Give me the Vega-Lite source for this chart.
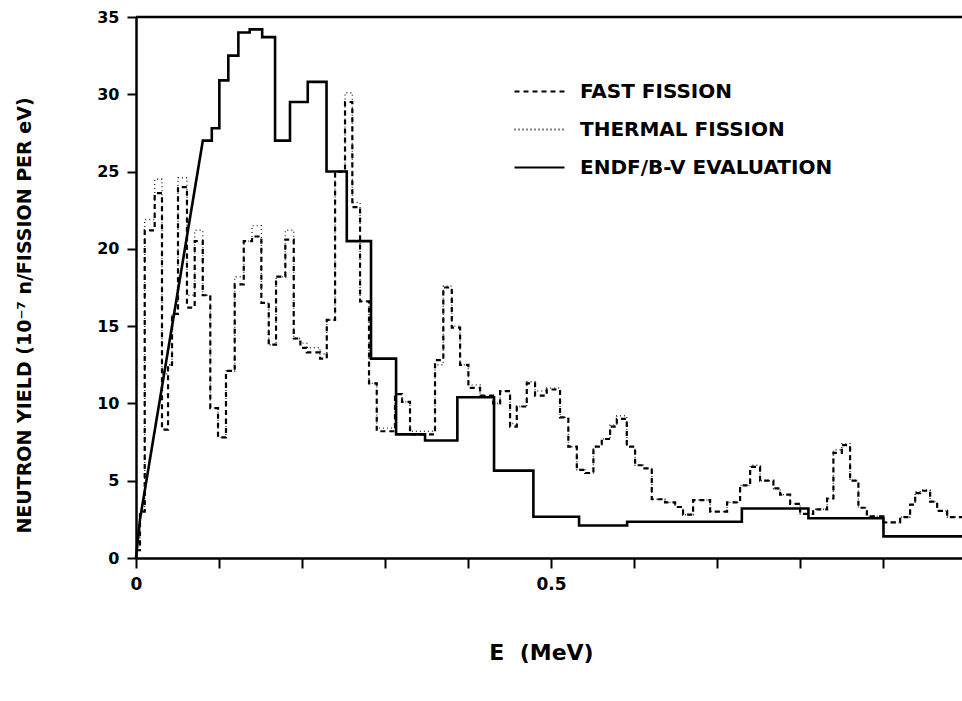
{
  "$schema": "https://vega.github.io/schema/vega-lite/v6.json",
  "autosize": "none",
  "width": 826,
  "height": 541,
  "padding": {"left": 136, "top": 17, "right": 0, "bottom": 143},
  "background": "white",
  "config": {"view": {"stroke": null}, "font": "DejaVu Sans"},
  "datasets": {
    "fast": [
      {"E": 0, "v": 0.5}, {"E": 0.0048, "v": 3.0}, {"E": 0.0105, "v": 21.2}, {"E": 0.0225, "v": 23.6},
      {"E": 0.0313, "v": 8.3}, {"E": 0.0386, "v": 12.5}, {"E": 0.0434, "v": 15.8}, {"E": 0.0506, "v": 24.0},
      {"E": 0.0614, "v": 16.2}, {"E": 0.0707, "v": 20.5}, {"E": 0.0804, "v": 17.0}, {"E": 0.0895, "v": 9.7},
      {"E": 0.0988, "v": 7.8}, {"E": 0.1084, "v": 12.1}, {"E": 0.1189, "v": 17.7}, {"E": 0.1298, "v": 20.5},
      {"E": 0.1398, "v": 20.8}, {"E": 0.151, "v": 16.5}, {"E": 0.1599, "v": 13.8}, {"E": 0.1687, "v": 18.2},
      {"E": 0.1799, "v": 20.6}, {"E": 0.19, "v": 14.2}, {"E": 0.198, "v": 13.6}, {"E": 0.2057, "v": 13.3},
      {"E": 0.2217, "v": 12.9}, {"E": 0.2298, "v": 15.4}, {"E": 0.2398, "v": 25.0}, {"E": 0.2518, "v": 29.5},
      {"E": 0.2606, "v": 22.7}, {"E": 0.2699, "v": 16.6}, {"E": 0.2807, "v": 11.3}, {"E": 0.29, "v": 8.2},
      {"E": 0.312, "v": 10.6}, {"E": 0.3205, "v": 10.1}, {"E": 0.3301, "v": 8.0}, {"E": 0.3602, "v": 12.8},
      {"E": 0.3702, "v": 17.5}, {"E": 0.3804, "v": 14.9}, {"E": 0.3904, "v": 12.5}, {"E": 0.4004, "v": 11.0},
      {"E": 0.4145, "v": 10.5}, {"E": 0.4301, "v": 10.0}, {"E": 0.4386, "v": 10.8}, {"E": 0.4506, "v": 8.5},
      {"E": 0.4587, "v": 9.8}, {"E": 0.4707, "v": 11.3}, {"E": 0.4807, "v": 10.5}, {"E": 0.4948, "v": 10.9},
      {"E": 0.5108, "v": 9.1}, {"E": 0.5208, "v": 7.2}, {"E": 0.531, "v": 5.7}, {"E": 0.541, "v": 5.5},
      {"E": 0.551, "v": 7.2}, {"E": 0.5611, "v": 7.7}, {"E": 0.5711, "v": 8.5}, {"E": 0.5792, "v": 9.0},
      {"E": 0.5912, "v": 7.2}, {"E": 0.6012, "v": 6.0}, {"E": 0.6112, "v": 5.8}, {"E": 0.6213, "v": 3.8},
      {"E": 0.6373, "v": 3.6}, {"E": 0.6494, "v": 3.3}, {"E": 0.659, "v": 2.8}, {"E": 0.6711, "v": 3.75},
      {"E": 0.6916, "v": 3.0}, {"E": 0.712, "v": 3.6}, {"E": 0.7277, "v": 4.7}, {"E": 0.7398, "v": 5.9},
      {"E": 0.7518, "v": 5.0}, {"E": 0.7678, "v": 4.5}, {"E": 0.7759, "v": 4.1}, {"E": 0.788, "v": 3.5},
      {"E": 0.8, "v": 2.85}, {"E": 0.8157, "v": 3.15}, {"E": 0.8325, "v": 3.85}, {"E": 0.8401, "v": 6.8},
      {"E": 0.8502, "v": 7.3}, {"E": 0.8602, "v": 5.0}, {"E": 0.8702, "v": 3.25}, {"E": 0.8804, "v": 2.7},
      {"E": 0.9004, "v": 2.3}, {"E": 0.9205, "v": 2.65}, {"E": 0.9325, "v": 3.45}, {"E": 0.9386, "v": 4.2},
      {"E": 0.9446, "v": 4.35}, {"E": 0.9566, "v": 3.65}, {"E": 0.9651, "v": 3.05}, {"E": 0.9771, "v": 2.65},
      {"E": 0.995, "v": 2.65}
    ],
    "thermal": [
      {"E": 0, "v": 0.5}, {"E": 0.0048, "v": 3.0}, {"E": 0.0105, "v": 21.9}, {"E": 0.0225, "v": 24.5},
      {"E": 0.0313, "v": 11.9}, {"E": 0.0386, "v": 12.5}, {"E": 0.0434, "v": 15.8}, {"E": 0.0506, "v": 24.6},
      {"E": 0.0614, "v": 17.0}, {"E": 0.0707, "v": 21.2}, {"E": 0.0804, "v": 17.0}, {"E": 0.0895, "v": 9.7},
      {"E": 0.0988, "v": 7.8}, {"E": 0.1084, "v": 12.1}, {"E": 0.1189, "v": 18.2}, {"E": 0.1298, "v": 20.5},
      {"E": 0.1398, "v": 21.5}, {"E": 0.151, "v": 16.5}, {"E": 0.1599, "v": 13.8}, {"E": 0.1687, "v": 18.2},
      {"E": 0.1799, "v": 21.2}, {"E": 0.19, "v": 14.2}, {"E": 0.198, "v": 13.9}, {"E": 0.2057, "v": 13.6},
      {"E": 0.2217, "v": 13.2}, {"E": 0.2298, "v": 15.4}, {"E": 0.2398, "v": 25.0}, {"E": 0.2518, "v": 30.1},
      {"E": 0.2606, "v": 23.0}, {"E": 0.2699, "v": 16.6}, {"E": 0.2807, "v": 11.3}, {"E": 0.29, "v": 8.4},
      {"E": 0.312, "v": 10.6}, {"E": 0.3205, "v": 10.1}, {"E": 0.3301, "v": 8.2}, {"E": 0.3602, "v": 12.5},
      {"E": 0.3702, "v": 17.6}, {"E": 0.3804, "v": 15.0}, {"E": 0.3904, "v": 12.5}, {"E": 0.4004, "v": 11.2},
      {"E": 0.4145, "v": 10.5}, {"E": 0.4301, "v": 10.0}, {"E": 0.4386, "v": 10.8}, {"E": 0.4506, "v": 8.7},
      {"E": 0.4587, "v": 9.8}, {"E": 0.4707, "v": 11.4}, {"E": 0.4807, "v": 10.8}, {"E": 0.4948, "v": 11.0},
      {"E": 0.5108, "v": 9.1}, {"E": 0.5208, "v": 7.2}, {"E": 0.531, "v": 5.7}, {"E": 0.541, "v": 5.5},
      {"E": 0.551, "v": 7.2}, {"E": 0.5611, "v": 7.7}, {"E": 0.5711, "v": 8.6}, {"E": 0.5792, "v": 9.2},
      {"E": 0.5912, "v": 7.2}, {"E": 0.6012, "v": 6.0}, {"E": 0.6112, "v": 5.8}, {"E": 0.6213, "v": 3.8},
      {"E": 0.6373, "v": 3.6}, {"E": 0.6494, "v": 3.3}, {"E": 0.659, "v": 2.8}, {"E": 0.6711, "v": 3.75},
      {"E": 0.6916, "v": 3.0}, {"E": 0.712, "v": 3.6}, {"E": 0.7277, "v": 4.7}, {"E": 0.7398, "v": 6.0},
      {"E": 0.7518, "v": 5.0}, {"E": 0.7678, "v": 4.5}, {"E": 0.7759, "v": 4.1}, {"E": 0.788, "v": 3.5},
      {"E": 0.8, "v": 2.85}, {"E": 0.8157, "v": 3.15}, {"E": 0.8325, "v": 3.85}, {"E": 0.8401, "v": 7.0},
      {"E": 0.8502, "v": 7.4}, {"E": 0.8602, "v": 5.0}, {"E": 0.8702, "v": 3.25}, {"E": 0.8804, "v": 2.7},
      {"E": 0.9004, "v": 2.3}, {"E": 0.9205, "v": 2.65}, {"E": 0.9325, "v": 3.45}, {"E": 0.9386, "v": 4.3},
      {"E": 0.9446, "v": 4.4}, {"E": 0.9566, "v": 3.65}, {"E": 0.9651, "v": 3.05}, {"E": 0.9771, "v": 2.65},
      {"E": 0.995, "v": 2.65}
    ],
    "endf": [
      {"i": 0, "E": 0, "v": 0}, {"i": 1, "E": 0.0048, "v": 2.5}, {"i": 2, "E": 0.0805, "v": 27.0},
      {"i": 3, "E": 0.0913, "v": 27.0}, {"i": 4, "E": 0.0913, "v": 27.8}, {"i": 5, "E": 0.1004, "v": 27.8},
      {"i": 6, "E": 0.1004, "v": 30.9}, {"i": 7, "E": 0.1112, "v": 30.9}, {"i": 8, "E": 0.1112, "v": 32.5},
      {"i": 9, "E": 0.1233, "v": 32.5}, {"i": 10, "E": 0.1233, "v": 34.0}, {"i": 11, "E": 0.137, "v": 34.0},
      {"i": 12, "E": 0.137, "v": 34.2}, {"i": 13, "E": 0.152, "v": 34.2}, {"i": 14, "E": 0.152, "v": 33.7},
      {"i": 15, "E": 0.1675, "v": 33.7}, {"i": 16, "E": 0.1675, "v": 27.0}, {"i": 17, "E": 0.1855, "v": 27.0},
      {"i": 18, "E": 0.1855, "v": 29.5}, {"i": 19, "E": 0.2069, "v": 29.5}, {"i": 20, "E": 0.2069, "v": 30.8},
      {"i": 21, "E": 0.2295, "v": 30.8}, {"i": 22, "E": 0.2295, "v": 25.0}, {"i": 23, "E": 0.2539, "v": 25.0},
      {"i": 24, "E": 0.2539, "v": 20.5}, {"i": 25, "E": 0.2831, "v": 20.5}, {"i": 26, "E": 0.2831, "v": 12.9},
      {"i": 27, "E": 0.3133, "v": 12.9}, {"i": 28, "E": 0.3133, "v": 8.0}, {"i": 29, "E": 0.3482, "v": 8.0},
      {"i": 30, "E": 0.3482, "v": 7.6}, {"i": 31, "E": 0.3871, "v": 7.6}, {"i": 32, "E": 0.3871, "v": 10.4},
      {"i": 33, "E": 0.4313, "v": 10.4}, {"i": 34, "E": 0.4313, "v": 5.65}, {"i": 35, "E": 0.4787, "v": 5.65},
      {"i": 36, "E": 0.4787, "v": 2.67}, {"i": 37, "E": 0.5337, "v": 2.67}, {"i": 38, "E": 0.5337, "v": 2.1},
      {"i": 39, "E": 0.5916, "v": 2.1}, {"i": 40, "E": 0.5916, "v": 2.35}, {"i": 41, "E": 0.7298, "v": 2.35},
      {"i": 42, "E": 0.7298, "v": 3.2}, {"i": 43, "E": 0.81, "v": 3.2}, {"i": 44, "E": 0.81, "v": 2.57},
      {"i": 45, "E": 0.9004, "v": 2.57}, {"i": 46, "E": 0.9004, "v": 1.4}, {"i": 47, "E": 0.995, "v": 1.4}
    ]
  },
  "layer": [
    {
      "data": {"name": "thermal"},
      "mark": {"type": "line", "interpolate": "step-after", "strokeWidth": 1.4, "color": "#333333"},
      "encoding": {
        "x": {"field": "E", "type": "quantitative", "scale": {"domain": [0, 0.995], "nice": false, "zero": false},
          "axis": {"title": "E\u00a0\u00a0(MeV)", "values": [0, 0.1, 0.2, 0.3, 0.4, 0.5, 0.6, 0.7, 0.8, 0.9],
            "labelExpr": "datum.value == 0 ? '0' : (abs(datum.value - 0.5) < 0.001 ? '0.5' : '')",
            "grid": false, "labelFlush": false, "tickSize": 10, "tickWidth": 2, "tickColor": "black",
            "domainWidth": 2.5, "domainColor": "black", "labelColor": "black", "labelFontSize": 17,
            "labelFontWeight": "bold", "labelPadding": 8, "titleFontSize": 22, "titleFontWeight": "bold",
            "titleColor": "black", "titlePadding": 50, "titleX": 405}},
        "y": {"field": "v", "type": "quantitative", "scale": {"domain": [0, 35], "nice": false},
          "axis": {"title": "NEUTRON YIELD (10⁻⁷ n/FISSION PER eV)", "values": [0, 5, 10, 15, 20, 25, 30, 35],
            "grid": false, "tickSize": 9, "tickWidth": 2, "tickColor": "black", "domainWidth": 2.5,
            "domainColor": "black", "labelColor": "black", "labelFontSize": 16, "labelFontWeight": "bold",
            "labelPadding": 8, "titleFontSize": 19, "titleFontWeight": "bold", "titleColor": "black",
            "titlePadding": 62, "titleY": 298}},
        "strokeDash": {"datum": "THERMAL FISSION",
          "scale": {"domain": ["FAST FISSION", "THERMAL FISSION", "ENDF/B-V EVALUATION"], "range": [[5, 4], [1, 3], [10, 0]]},
          "legend": {"title": null, "orient": "none", "legendX": 377, "legendY": 48, "symbolType": "stroke",
            "symbolSize": 2500, "symbolStrokeWidth": 2.2, "symbolStrokeColor": "black", "labelFontSize": 20,
            "labelFontWeight": "bold", "labelColor": "black", "labelOffset": 14, "rowPadding": 1,
            "labelLimit": 500}}
      }
    },
    {
      "data": {"name": "fast"},
      "mark": {"type": "line", "interpolate": "step-after", "strokeWidth": 2.2, "color": "black"},
      "encoding": {
        "x": {"field": "E", "type": "quantitative"},
        "y": {"field": "v", "type": "quantitative"},
        "strokeDash": {"datum": "FAST FISSION"}
      }
    },
    {
      "data": {"name": "endf"},
      "mark": {"type": "line", "strokeWidth": 2.6, "color": "black"},
      "encoding": {
        "x": {"field": "E", "type": "quantitative"},
        "y": {"field": "v", "type": "quantitative"},
        "order": {"field": "i", "type": "quantitative"},
        "strokeDash": {"datum": "ENDF/B-V EVALUATION"}
      }
    },
    {
      "data": {"values": [{"top": 35}]},
      "mark": {"type": "rule", "strokeWidth": 2.5, "color": "black"},
      "encoding": {"y": {"field": "top", "type": "quantitative"}}
    }
  ]
}
